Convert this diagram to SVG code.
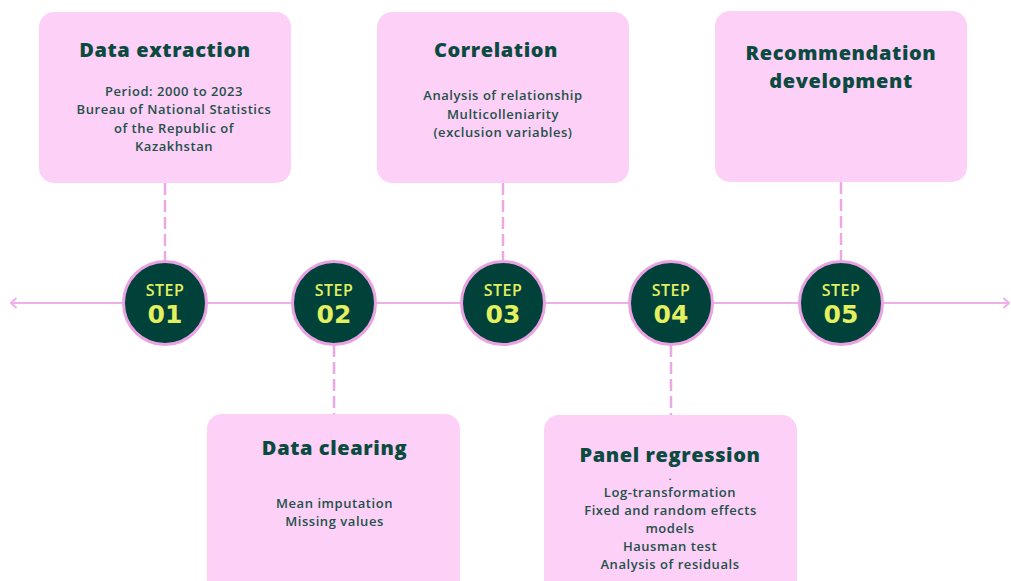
<svg xmlns="http://www.w3.org/2000/svg" width="1011" height="581" viewBox="0 0 1011 581">
<defs>
<style>
.box{fill:#fdd0f7;}
.title{font-family:"Open Sans","DejaVu Sans",sans-serif;font-weight:800;font-size:20px;letter-spacing:0.6px;fill:#0b4a3f;text-anchor:middle;}
.body{font-family:"Open Sans","DejaVu Sans",sans-serif;font-weight:600;font-size:13px;letter-spacing:0.55px;fill:#24504a;text-anchor:middle;}
.dot{font-family:"Open Sans","DejaVu Sans",sans-serif;font-weight:700;font-size:9px;fill:#24504a;text-anchor:middle;}
.circ{fill:#00413a;stroke:#e9a3e3;stroke-width:3;}
.step{font-family:"Open Sans","DejaVu Sans",sans-serif;font-weight:600;font-size:16px;letter-spacing:0.5px;fill:#e3f05f;text-anchor:middle;}
.num{font-family:"DejaVu Sans",sans-serif;font-weight:700;font-size:25px;fill:#e3f05f;text-anchor:middle;}
.dash{stroke:#eaa8e4;stroke-width:2.5;stroke-dasharray:12 5;fill:none;}
.axis{stroke:#eeb0e8;stroke-width:2;fill:none;}
</style>
<marker id="chev" viewBox="0 0 8 12" refX="6.5" refY="6" markerWidth="8" markerHeight="12" orient="auto-start-reverse" markerUnits="userSpaceOnUse">
<path d="M1,1 L6.5,6 L1,11" fill="none" stroke="#eeb0e8" stroke-width="2"/>
</marker>
</defs>
<rect width="1011" height="581" fill="#ffffff"/>
<g id="connectors">
<line class="axis" x1="11" y1="303" x2="1009" y2="303" marker-start="url(#chev)" marker-end="url(#chev)"/>
<line class="dash" x1="165" y1="183" x2="165" y2="262"/>
<line class="dash" x1="503" y1="183" x2="503" y2="262"/>
<line class="dash" x1="841" y1="182" x2="841" y2="262"/>
<line class="dash" x1="334" y1="345" x2="334" y2="414"/>
<line class="dash" x1="671" y1="345" x2="671" y2="415"/>
</g>
<g id="box1">
<rect class="box" x="39" y="12" width="252" height="171" rx="15"/>
<text class="title" x="165" y="57">Data extraction</text>
<text class="body" x="174" y="96">Period: 2000 to 2023</text>
<text class="body" x="174" y="114">Bureau of National Statistics</text>
<text class="body" x="174" y="132.5">of the Republic of</text>
<text class="body" x="174" y="150.5">Kazakhstan</text>
</g>
<g id="box3">
<rect class="box" x="377" y="12" width="252" height="171" rx="15"/>
<text class="title" x="496" y="57">Correlation</text>
<text class="body" x="503" y="100">Analysis of relationship</text>
<text class="body" x="503" y="118.5">Multicolleniarity</text>
<text class="body" x="503" y="137">(exclusion variables)</text>
</g>
<g id="box5">
<rect class="box" x="715" y="11" width="252" height="171" rx="15"/>
<text class="title" x="841" y="60">Recommendation</text>
<text class="title" x="841" y="88">development</text>
</g>
<g id="box2">
<rect class="box" x="207" y="414" width="253" height="180" rx="15"/>
<text class="title" x="334.5" y="455">Data clearing</text>
<text class="body" x="334.5" y="508">Mean imputation</text>
<text class="body" x="334.5" y="526">Missing values</text>
</g>
<g id="box4">
<rect class="box" x="544" y="415" width="253" height="180" rx="15"/>
<text class="title" x="670" y="462">Panel regression</text>
<text class="dot" x="670" y="480">.</text>
<text class="body" x="670" y="497">Log-transformation</text>
<text class="body" x="670.5" y="515">Fixed and random effects</text>
<text class="body" x="670" y="533">models</text>
<text class="body" x="670" y="550.5">Hausman test</text>
<text class="body" x="670" y="568.5">Analysis of residuals</text>
</g>
<g id="step1">
<circle class="circ" cx="165" cy="303" r="41.5"/>
<text class="step" x="165" y="296">STEP</text>
<text class="num" x="165" y="323">01</text>
</g>
<g id="step2">
<circle class="circ" cx="334" cy="303" r="41.5"/>
<text class="step" x="334" y="296">STEP</text>
<text class="num" x="334" y="323">02</text>
</g>
<g id="step3">
<circle class="circ" cx="503" cy="303" r="41.5"/>
<text class="step" x="503" y="296">STEP</text>
<text class="num" x="503" y="323">03</text>
</g>
<g id="step4">
<circle class="circ" cx="671" cy="303" r="41.5"/>
<text class="step" x="671" y="296">STEP</text>
<text class="num" x="671" y="323">04</text>
</g>
<g id="step5">
<circle class="circ" cx="841" cy="303" r="41.5"/>
<text class="step" x="841" y="296">STEP</text>
<text class="num" x="841" y="323">05</text>
</g>
</svg>
